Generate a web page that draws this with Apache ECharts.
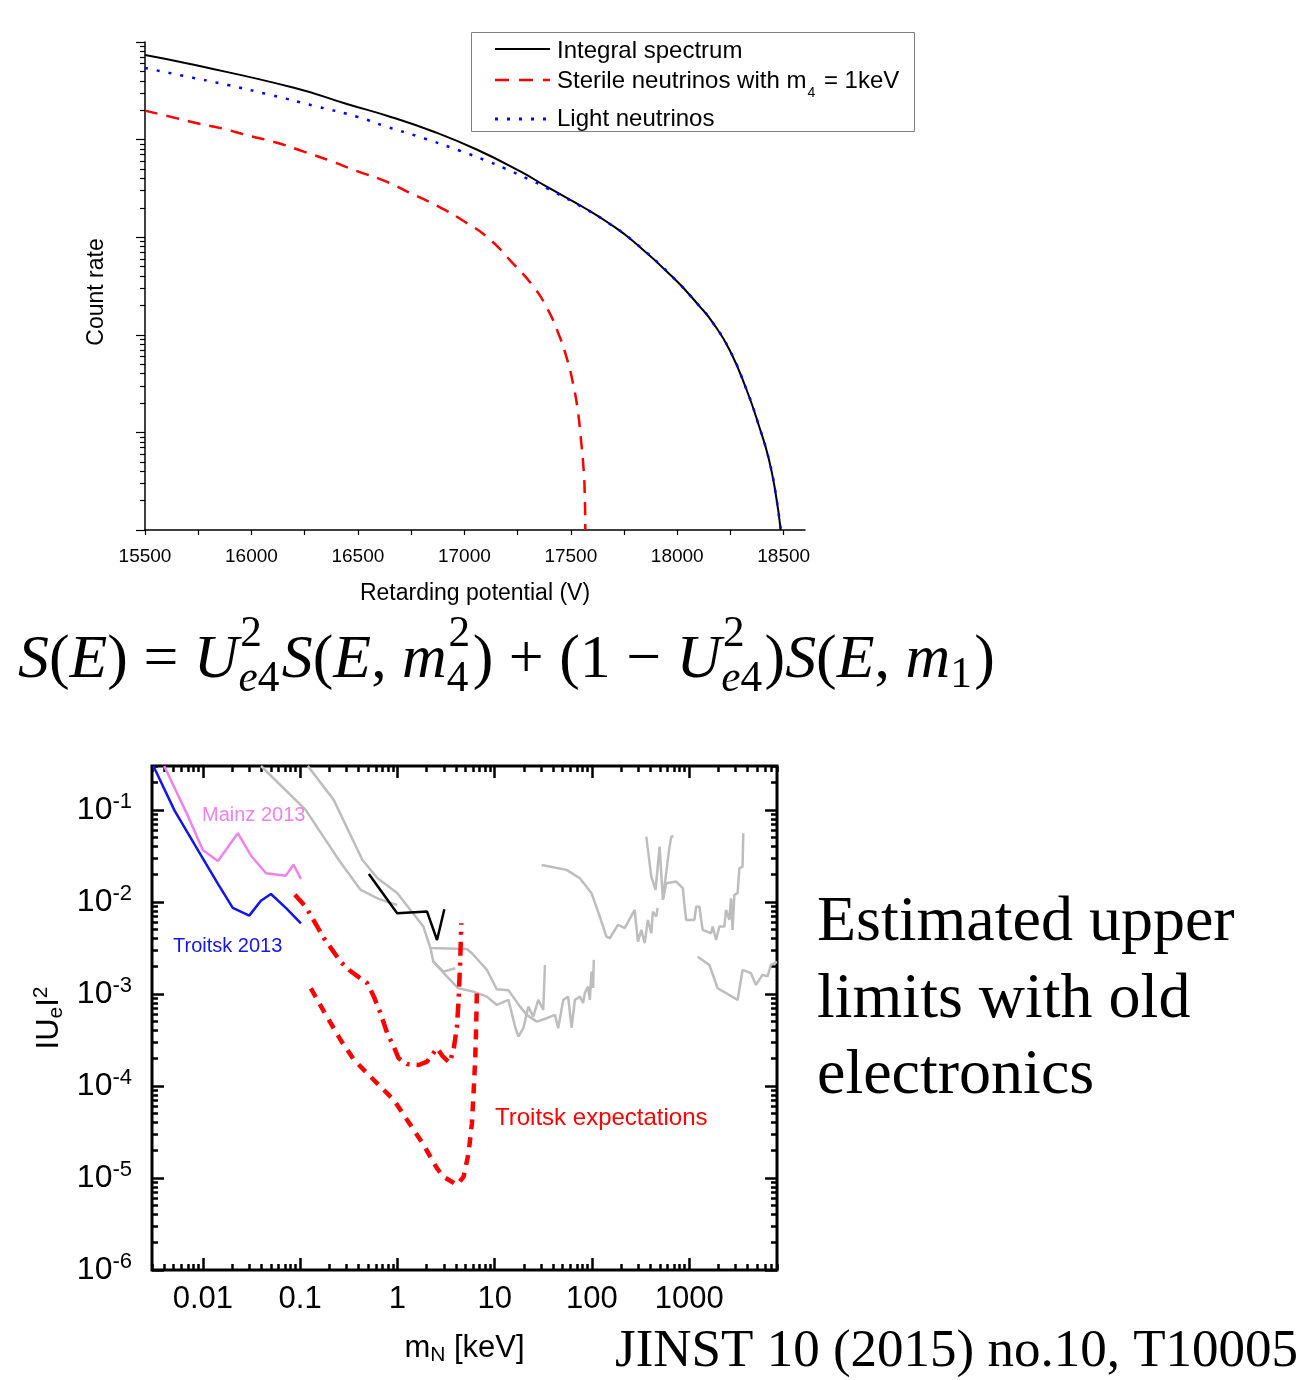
<!DOCTYPE html>
<html>
<head>
<meta charset="utf-8">
<script src="https://cdn.jsdelivr.net/npm/echarts@6/dist/echarts.min.js"></script>
<style>
  html, body { margin: 0; padding: 0; background: #ffffff; }
  #chart { width: 1308px; height: 1380px; }
</style>
</head>
<body>
<div id="chart"></div>
<script>
// ---------------- upper panel: integral beta spectrum ----------------
const potentialIntegral = [15500, 15695, 16204, 16448, 16655, 16857, 17063, 17265, 17387, 17573, 17674, 17796, 17981, 18104, 18165, 18246, 18326, 18387, 18430, 18461, 18486];
const rateIntegral = [73600, 60500, 33800, 23200, 17060, 12050, 7820, 4690, 3290, 1945, 1415, 900, 386, 197, 135, 69.9, 27.2, 11.1, 5.34, 2.45, 1];

const potentialSterile = [15500, 15622, 15735, 15869, 15979, 16124, 16246, 16369, 16491, 16634, 16756, 16879, 17002, 17114, 17226, 17326, 17387, 17439, 17481, 17512, 17533, 17547, 17559, 17566, 17568];
const rateSterile = [19800, 17100, 14900, 12900, 11100, 9230, 7520, 6080, 4800, 3710, 2770, 2060, 1440, 975, 545, 309, 190.5, 107, 57.8, 30.6, 16.6, 8.77, 4.53, 2.13, 1];

const potentialLight = [15500, 15683, 15890, 16092, 16298, 16500, 16634, 16777, 16979, 17115, 17185, 17317, 17387, 17573, 17674, 17796, 17981, 18104, 18165, 18246, 18326, 18387, 18430, 18461, 18486];
const rateLight = [54200, 44900, 36200, 28600, 22100, 17060, 13550, 10890, 7690, 5940, 5120, 3790, 3190, 1925, 1410, 900, 386, 197, 135, 69.9, 27.2, 11.1, 5.34, 2.45, 1];

const potentialLabels = [15500, 16000, 16500, 17000, 17500, 18000, 18500];
const potentialTickMarks = [15500, 15750, 16000, 16250, 16500, 16750, 17000, 17250, 17500, 17750, 18000, 18250, 18500];
const rateDecades = [1, 10, 100, 1000, 10000, 100000];

// ---------------- lower panel: limits on |Ue|^2 ----------------
const massTroitsk2013 = [0.0031, 0.00512, 0.00961, 0.0143, 0.0203, 0.030, 0.0395, 0.0501, 0.0713, 0.102];
const mixTroitsk2013 = [0.30, 0.0982, 0.0318, 0.0157, 0.00861, 0.0071, 0.0103, 0.0122, 0.00861, 0.00586];

const massMainz2013 = [0.0040, 0.00702, 0.01, 0.0143, 0.0229, 0.0313, 0.0446, 0.0713, 0.0855, 0.102];
const mixMainz2013 = [0.30, 0.0861, 0.0367, 0.0279, 0.0558, 0.0318, 0.0205, 0.0193, 0.0254, 0.0178];

const massExpectUpper = [0.0883, 0.114, 0.176, 0.261, 0.318, 0.49, 0.573, 0.671, 0.786, 0.919, 1.03, 1.26, 1.66, 2.02, 2.56, 2.95, 3.44, 3.78, 4.1, 4.26, 4.43, 4.54];
const mixExpectUpper = [0.0120, 0.00889, 0.00403, 0.00224, 0.00182, 0.00131, 0.000935, 0.000617, 0.000374, 0.000267, 0.0002, 0.000173, 0.000169, 0.000184, 0.000257, 0.000208, 0.000179, 0.000246, 0.000442, 0.000861, 0.00234, 0.00586];

const massExpectLower = [0.129, 0.176, 0.261, 0.358, 0.573, 0.919, 1.26, 1.86, 2.56, 2.99, 4.1, 4.79, 5.39, 5.84, 6.07, 6.31, 6.46, 6.57];
const mixExpectLower = [0.00115, 0.000643, 0.000316, 0.000192, 0.000116, 0.0000705, 0.0000427, 0.0000229, 0.0000127, 0.0000103, 0.0000084, 0.0000103, 0.0000185, 0.0000394, 0.0000834, 0.000192, 0.000442, 0.0011];

const massBlack = [0.509, 0.995, 2.02, 2.557, 3.04];
const mixBlack = [0.0201, 0.00753, 0.00785, 0.00386, 0.00834];

const massGrayA = [0.0396, 0.114, 0.249, 0.419, 0.64, 0.995];
const mixGrayA = [0.30, 0.1, 0.0287, 0.0135, 0.0108, 0.00927];

const massGrayB = [0.12, 0.2215, 0.436, 0.621, 0.995, 1.362, 1.851, 2.183, 5.19, 5.84, 8.32, 10.53, 13.85, 18.25, 21.38, 27.06, 34.3, 41.7, 45.05, 50.7, 57.0, 61.8, 66.8, 75.2, 81.2, 84.6, 91.4, 95.2, 99.1, 102.9, 104.6];
const mixGrayB = [0.30, 0.1285, 0.0287, 0.01823, 0.01253, 0.00818, 0.0054, 0.00316, 0.00308, 0.00277, 0.001824, 0.001125, 0.0011, 0.000728, 0.000592, 0.0005, 0.000545, 0.000592, 0.000424, 0.000861, 0.000935, 0.000427, 0.000861, 0.000935, 0.000798, 0.001026, 0.0012, 0.000861, 0.001746, 0.001161, 0.002344];

const massGrayC = [2.183, 2.344, 2.967, 3.94];
const mixGrayC = [0.00316, 0.002244, 0.001746, 0.0019];

const massGrayD = [2.344, 3.24, 4.23, 6.02, 8.32, 10.53, 13.85, 16.22, 17.53, 19.73, 22.2, 24.97, 28.1, 31.6, 32.9];
const mixGrayD = [0.002244, 0.00154, 0.001153, 0.00106, 0.000935, 0.000759, 0.000861, 0.000442, 0.000344, 0.000424, 0.000728, 0.000566, 0.000861, 0.00067, 0.002065];

const massGrayE = [30.45, 54.9, 75.2, 99.1, 120.5, 141.1, 152.6, 185.5, 217.3, 275.1, 297.4, 322.3, 348.3, 376.5, 408.1, 423.7, 459.1, 473];
const mixGrayE = [0.0252, 0.0223, 0.0181, 0.01245, 0.00692, 0.0042, 0.00403, 0.00562, 0.00518, 0.00818, 0.0037, 0.00497, 0.00356, 0.00637, 0.00457, 0.00785, 0.00692, 0.00861];

const massGrayF = [362.5, 408.1, 451.5, 496.4, 536.5, 618, 654, 690.5];
const mixGrayF = [0.0513, 0.01884, 0.0135, 0.0399, 0.01052, 0.0352, 0.0513, 0.0513];

const massGrayG = [536.5, 581.2, 736, 859.9, 894.9, 931.7, 1133, 1179.6, 1275, 1328, 1378, 1681, 1745, 1891, 2044, 2300, 2394, 2588, 2694, 2797, 2911, 3148, 3277, 3541, 3600];
const mixGrayG = [0.01052, 0.01596, 0.01663, 0.0141, 0.00927, 0.00637, 0.00637, 0.00889, 0.00889, 0.00637, 0.00497, 0.00457, 0.0054, 0.00386, 0.0054, 0.0054, 0.00818, 0.00637, 0.01096, 0.00497, 0.0119, 0.01245, 0.0232, 0.0242, 0.0558];

const massGrayH = [1225, 1614, 1963, 3148, 3541, 4317, 4859, 5677, 6389, 6922, 8000];
const mixGrayH = [0.00254, 0.002065, 0.001153, 0.000861, 0.001824, 0.00168, 0.001253, 0.00161, 0.00155, 0.002065, 0.00223];

const massDecades = [0.01, 0.1, 1, 10, 100, 1000];
const mixDecades = [1e-6, 1e-5, 1e-4, 1e-3, 1e-2, 1e-1];

// ---------------- helpers ----------------
const zip = (xs, ys) => xs.map((x, i) => [x, ys[i]]);

// 2..9 x 10^n marks between the axis limits
function logMinorTicks(min, max) {
  const out = [];
  for (let e = Math.floor(Math.log10(min)); e <= Math.ceil(Math.log10(max)); e++) {
    for (let k = 2; k <= 9; k++) {
      const v = Number((k * Math.pow(10, e)).toPrecision(6));
      if (v >= min * 0.9999 && v <= max * 1.0001) out.push(v);
    }
  }
  return out;
}

const measureCtx = document.createElement('canvas').getContext('2d');
function measure(text, size, family, italic) {
  measureCtx.font = (italic ? 'italic ' : '') + size + 'px ' + family;
  return measureCtx.measureText(text).width;
}

const SANS = 'Liberation Sans';
const SERIF = 'Liberation Serif';

function textEl(text, x, centerY, size, family, color, italic, align) {
  return {
    type: 'text', x: x, y: centerY, z: 100,
    style: {
      text: text, fontSize: size, fontFamily: family,
      fontStyle: italic ? 'italic' : 'normal',
      fill: color || '#000', align: align || 'left', verticalAlign: 'middle'
    }
  };
}

// ---------------- formula: S(E) = U_{e4}^2 S(E, m_4^2) + (1 - U_{e4}^2) S(E, m_1) ----------------
const formulaPieces = [
  ['S', 1], ['(', 0], ['E', 1], [')', 0], [' = ', 0], ['U', 1],
  { sup: [['2', 0]], sub: [['e', 1], ['4', 0]] },
  ['S', 1], ['(', 0], ['E', 1], [', ', 0], ['m', 1],
  { sup: [['2', 0]], sub: [['4', 0]] },
  [') + (1 \u2212 ', 0], ['U', 1],
  { sup: [['2', 0]], sub: [['e', 1], ['4', 0]] },
  [')', 0], ['S', 1], ['(', 0], ['E', 1], [', ', 0], ['m', 1],
  { sub: [['1', 0]] },
  [')', 0]
];

function layoutFormula(size, x0, baseline) {
  const els = [];
  const small = size * 0.7;
  const mid = 0.34;
  let x = x0;
  const put = (t, it, sz, xx, base) => els.push(textEl(t, xx, base - mid * sz, sz, SERIF, '#000', !!it));
  const runWidth = (run, sz) => run.reduce((w, p) => w + measure(p[0], sz, SERIF, !!p[1]), 0);
  const putRun = (run, sz, xx, base) => {
    let cx = xx;
    run.forEach(p => { put(p[0], p[1], sz, cx, base); cx += measure(p[0], sz, SERIF, !!p[1]); });
  };
  formulaPieces.forEach(p => {
    if (Array.isArray(p)) {
      put(p[0], p[1], size, x, baseline);
      x += measure(p[0], size, SERIF, !!p[1]);
    } else {
      const wSup = p.sup ? runWidth(p.sup, small) : 0;
      const wSub = p.sub ? runWidth(p.sub, small) : 0;
      if (p.sup) putRun(p.sup, small, x + 0.03 * size, baseline - 0.52 * size);
      if (p.sub) putRun(p.sub, small, x, baseline + (p.sup ? 0.2 : 0.14) * size);
      x += Math.max(wSup + 0.03 * size, wSub) + 0.04 * size;
    }
  });
  return { els: els, width: x - x0 };
}

const formulaLeft = 18, formulaWidth = 977, formulaBaseline = 682;
const trial = layoutFormula(50, formulaLeft, formulaBaseline);
const formulaSize = 50 * formulaWidth / trial.width;
const formulaEls = layoutFormula(formulaSize, formulaLeft, formulaBaseline).els;

// ---------------- legend of the upper panel ----------------
const legendFont = 24;
const sterileHead = 'Sterile neutrinos with m';
const sterileHeadW = measure(sterileHead, legendFont, SANS, false);
const sub4W = measure('4', 14, SANS, false);
const legendEls = [
  { type: 'rect', shape: { x: 471.5, y: 32.5, width: 443, height: 99 }, z: 90,
    style: { fill: '#ffffff', stroke: '#7f7f7f', lineWidth: 1 } },
  { type: 'line', shape: { x1: 495, y1: 49, x2: 550, y2: 49 }, z: 100,
    style: { stroke: '#000000', lineWidth: 2 } },
  { type: 'line', shape: { x1: 495, y1: 80, x2: 550, y2: 80 }, z: 100,
    style: { stroke: '#ff0000', lineWidth: 2.5, lineDash: [14, 10] } },
  { type: 'line', shape: { x1: 495, y1: 119, x2: 550, y2: 119 }, z: 100,
    style: { stroke: '#0000ff', lineWidth: 3, lineDash: [3, 9] } },
  textEl('Integral spectrum', 557, 51, legendFont, SANS),
  textEl(sterileHead, 557, 81, legendFont, SANS),
  textEl('4', 557 + sterileHeadW + 1, 93, 14, SANS),
  textEl(' = 1keV', 557 + sterileHeadW + sub4W + 3, 81, legendFont, SANS),
  textEl('Light neutrinos', 557, 119, legendFont, SANS)
];

// ---------------- free text ----------------
const sideFont = 64;
const noteEls = [
  textEl('Estimated upper', 817, 945 - 0.34 * sideFont, sideFont, SERIF),
  textEl('limits with old', 817, 1022 - 0.34 * sideFont, sideFont, SERIF),
  textEl('electronics', 817, 1098 - 0.34 * sideFont, sideFont, SERIF),
  textEl('JINST 10 (2015) no.10, T10005', 615, 1370 - 0.34 * 53, 53, SERIF),
  textEl('Mainz 2013', 202, 815, 20, SANS, '#ee82ee'),
  textEl('Troitsk 2013', 173, 946, 20, SANS, '#1414f0'),
  textEl('Troitsk expectations', 495, 1118, 24, SANS, '#ff0000')
];

// ---------------- axes ----------------
const MASS_MIN = 0.003, MASS_MAX = 8000;
const MIX_MIN = 1e-6, MIX_MAX = 0.3;
const massMinor = logMinorTicks(MASS_MIN, MASS_MAX);
const mixMinor = logMinorTicks(MIX_MIN, MIX_MAX);
const rateMinor = logMinorTicks(1, 100000);

function massAxis(position, major, withLabels) {
  const ax = {
    gridIndex: 1, type: 'log', logBase: 10, position: position,
    min: MASS_MIN, max: MASS_MAX,
    axisLine: { show: false },
    splitLine: { show: false },
    axisTick: {
      show: true, inside: true, length: major ? 12 : 6,
      lineStyle: { color: '#000', width: 2.5 },
      customValues: major ? massDecades : massMinor
    },
    axisLabel: { show: false }
  };
  if (withLabels) {
    ax.axisLabel = {
      show: true, customValues: massDecades, margin: 14,
      fontSize: 31, fontFamily: SANS, color: '#000',
      formatter: v => {
        const e = Math.round(Math.log10(v));
        return e < 0 ? v.toFixed(-e) : String(Math.round(v));
      }
    };
    ax.name = '{a|m}{s|N}{a| [keV]}';
    ax.nameLocation = 'middle';
    ax.nameGap = 61;
    ax.nameMoveOverlap = false;
    ax.nameTextStyle = {
      color: '#000', fontFamily: SANS,
      rich: {
        a: { fontSize: 31, fontFamily: SANS, color: '#000' },
        s: { fontSize: 21, fontFamily: SANS, color: '#000', padding: [14, 0, 0, 0] }
      }
    };
  }
  return ax;
}

function mixAxis(position, major, withLabels) {
  const ax = {
    gridIndex: 1, type: 'log', logBase: 10, position: position,
    min: MIX_MIN, max: MIX_MAX,
    axisLine: { show: false },
    splitLine: { show: false },
    axisTick: {
      show: true, inside: true, length: major ? 12 : 6,
      lineStyle: { color: '#000', width: 2.5 },
      customValues: major ? mixDecades : mixMinor
    },
    axisLabel: { show: false }
  };
  if (withLabels) {
    ax.axisLabel = {
      show: true, customValues: mixDecades, margin: 20,
      fontFamily: SANS, color: '#000',
      formatter: v => '{b|10}{e|' + Math.round(Math.log10(v)) + '}',
      rich: {
        b: { fontSize: 32, fontFamily: SANS, color: '#000' },
        e: { fontSize: 22, fontFamily: SANS, color: '#000', padding: [0, 0, 16, 0] }
      }
    };
    ax.name = '{a|IU}{s|e}{a|I}{p|2}';
    ax.nameLocation = 'middle';
    ax.nameGap = 84;
    ax.nameMoveOverlap = false;
    ax.nameTextStyle = {
      color: '#000', fontFamily: SANS,
      rich: {
        a: { fontSize: 31, fontFamily: SANS, color: '#000' },
        s: { fontSize: 21, fontFamily: SANS, color: '#000', padding: [14, 0, 0, 0] },
        p: { fontSize: 21, fontFamily: SANS, color: '#000', padding: [0, 0, 16, 0] }
      }
    };
  }
  return ax;
}

function grayLine(xs, ys) {
  return {
    type: 'line', xAxisIndex: 1, yAxisIndex: 2, data: zip(xs, ys),
    symbol: 'none', silent: true, z: 2,
    lineStyle: { color: '#bdbdbd', width: 2.5 }
  };
}

const chart = echarts.init(document.getElementById('chart'), null, { renderer: 'canvas' });

chart.setOption({
  animation: false,
  backgroundColor: '#ffffff',
  textStyle: { fontFamily: SANS, color: '#000' },
  grid: [
    { left: 145, top: 42, width: 660, height: 488, show: false, outerBoundsMode: 'none', containLabel: false },
    { left: 152, top: 766, width: 625, height: 504, show: true, borderColor: '#000', borderWidth: 3,
      backgroundColor: 'transparent', outerBoundsMode: 'none', containLabel: false }
  ],
  xAxis: [
    {
      gridIndex: 0, type: 'value', position: 'bottom',
      min: 15500, max: 18600, interval: 500,
      axisLine: { show: true, onZero: false, lineStyle: { color: '#000', width: 1.5 } },
      axisTick: { show: true, inside: false, length: 5, lineStyle: { color: '#000', width: 1.2 }, customValues: potentialTickMarks },
      axisLabel: { show: true, customValues: potentialLabels, margin: 17, fontSize: 19, fontFamily: SANS, color: '#000',
        formatter: v => String(v) },
      splitLine: { show: false },
      name: 'Retarding potential (V)', nameLocation: 'middle', nameGap: 52, nameMoveOverlap: false,
      nameTextStyle: { fontSize: 23, fontFamily: SANS, color: '#000' }
    },
    massAxis('bottom', true, true),
    massAxis('bottom', false, false),
    massAxis('top', true, false),
    massAxis('top', false, false)
  ],
  yAxis: [
    {
      gridIndex: 0, type: 'log', logBase: 10, position: 'left',
      min: 1, max: 100000,
      axisLine: { show: true, onZero: false, lineStyle: { color: '#000', width: 1.5 } },
      axisTick: { show: true, inside: false, length: 9, lineStyle: { color: '#000', width: 1.2 }, customValues: rateDecades },
      axisLabel: { show: false },
      splitLine: { show: false },
      name: 'Count rate', nameLocation: 'middle', nameGap: 37, nameMoveOverlap: false,
      nameTextStyle: { fontSize: 23, fontFamily: SANS, color: '#000', padding: [0, 12, 0, 0] }
    },
    {
      gridIndex: 0, type: 'log', logBase: 10, position: 'left',
      min: 1, max: 100000,
      axisLine: { show: false },
      axisTick: { show: true, inside: false, length: 5, lineStyle: { color: '#000', width: 1.2 }, customValues: rateMinor },
      axisLabel: { show: false },
      splitLine: { show: false }
    },
    mixAxis('left', true, true),
    mixAxis('left', false, false),
    mixAxis('right', true, false),
    mixAxis('right', false, false)
  ],
  series: [
    {
      name: 'Integral spectrum', type: 'line', xAxisIndex: 0, yAxisIndex: 0,
      data: zip(potentialIntegral, rateIntegral), symbol: 'none', smooth: 0.5,
      lineStyle: { color: '#000000', width: 2 }, z: 3
    },
    {
      name: 'Sterile neutrinos with m4 = 1keV', type: 'line', xAxisIndex: 0, yAxisIndex: 0,
      data: zip(potentialSterile, rateSterile), symbol: 'none', smooth: 0.5,
      lineStyle: { color: '#ff0000', width: 2.5, type: [13, 9], cap: 'butt' }, z: 4
    },
    {
      name: 'Light neutrinos', type: 'line', xAxisIndex: 0, yAxisIndex: 0,
      data: zip(potentialLight, rateLight), symbol: 'none', smooth: 0.5,
      lineStyle: { color: '#0000ff', width: 2.5, type: [3, 9], cap: 'butt' }, z: 5
    },
    grayLine(massGrayA, mixGrayA),
    grayLine(massGrayB, mixGrayB),
    grayLine(massGrayC, mixGrayC),
    grayLine(massGrayD, mixGrayD),
    grayLine(massGrayE, mixGrayE),
    grayLine(massGrayF, mixGrayF),
    grayLine(massGrayG, mixGrayG),
    grayLine(massGrayH, mixGrayH),
    {
      name: 'Mainz 2013', type: 'line', xAxisIndex: 1, yAxisIndex: 2,
      data: zip(massMainz2013, mixMainz2013), symbol: 'none', z: 3,
      lineStyle: { color: '#ee82ee', width: 2.5 }
    },
    {
      name: 'Troitsk 2013', type: 'line', xAxisIndex: 1, yAxisIndex: 2,
      data: zip(massTroitsk2013, mixTroitsk2013), symbol: 'none', z: 3,
      lineStyle: { color: '#1414f0', width: 2.5 }
    },
    {
      name: 'Other limit', type: 'line', xAxisIndex: 1, yAxisIndex: 2,
      data: zip(massBlack, mixBlack), symbol: 'none', z: 3,
      lineStyle: { color: '#000000', width: 2.5 }
    },
    {
      name: 'Troitsk expectations (upper)', type: 'line', xAxisIndex: 1, yAxisIndex: 2,
      data: zip(massExpectUpper, mixExpectUpper), symbol: 'none', z: 4,
      lineStyle: { color: '#ff0000', width: 4.5, type: [14, 7, 3, 7], cap: 'butt' }
    },
    {
      name: 'Troitsk expectations (lower)', type: 'line', xAxisIndex: 1, yAxisIndex: 2,
      data: zip(massExpectLower, mixExpectLower), symbol: 'none', z: 4,
      lineStyle: { color: '#ff0000', width: 4.5, type: [10, 8], cap: 'butt' }
    }
  ],
  graphic: { elements: legendEls.concat(formulaEls, noteEls) }
});
</script>
</body>
</html>
